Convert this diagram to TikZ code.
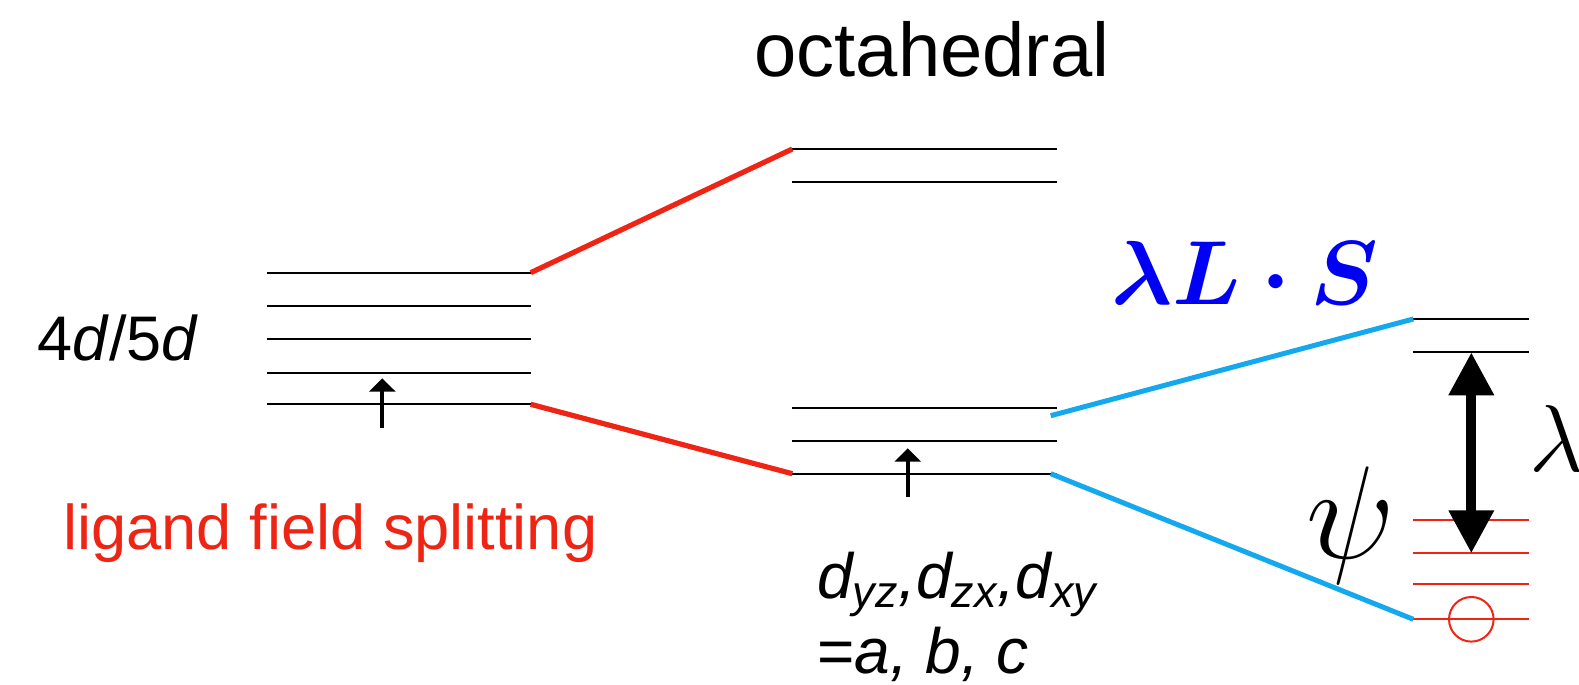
\RequirePackage{fix-cm}
\documentclass[tikz,border=0pt]{standalone}
\usepackage{fontspec}
\setmainfont{Liberation Sans}
\usepackage{bm}
\usetikzlibrary{arrows.meta}
\definecolor{lfred}{HTML}{EE2514}
\definecolor{soblue}{HTML}{14A8EE}
\definecolor{txblue}{HTML}{0000F5}

\begin{document}
\begin{tikzpicture}[x=0.5pt,y=-0.5pt,
  level/.style={black,line width=1.1pt},
  redlevel/.style={lfred,line width=1pt},
  lfline/.style={lfred,line width=2.6pt},
  soline/.style={soblue,line width=2.5pt},
  spin/.style={-{Triangle[length=6.7pt,width=13pt]},line width=2pt},
  gap/.style={{Triangle[length=21.5pt,width=21.5pt]}-{Triangle[length=21.5pt,width=21.5pt]},line width=5pt},
  lbl/.style={inner sep=0pt,anchor=base west}]
  \useasboundingbox (0,0) rectangle (1579,685);

  % Free ion d levels (4d/5d)
  \foreach \y [count=\i] in {272.7,306,339.3,372.7,404.3} {
    \draw[level] (266.7,\y) coordinate (dw\i) -- (530.7,\y) coordinate (de\i);
  }
  \draw[spin] (382.3,428.3) -- (382.3,378.3);

  % Octahedral e_g and t_2g levels
  \foreach \y [count=\i] in {149,182.3} {
    \draw[level] (792.3,\y) coordinate (egw\i) -- (1056.7,\y) coordinate (ege\i);
  }
  \foreach \y [count=\i] in {408.3,441,473.7} {
    \draw[level] (792.3,\y) coordinate (tw\i) -- (1056.7,\y) coordinate (te\i);
  }
  \draw[spin] (907.7,497.3) -- (907.7,448.3);

  % Spin-orbit split levels
  \foreach \y [count=\i] in {319,352.3} {
    \draw[level] (1413.3,\y) coordinate (jw\i) -- coordinate (jm\i) (1529.3,\y) coordinate (je\i);
  }
  \foreach \y [count=\i] in {520,553.3,584,619.3} {
    \draw[redlevel] (1413.3,\y) coordinate (rw\i) -- coordinate (rm\i) (1529.3,\y) coordinate (re\i);
  }
  \node[draw=lfred,line width=1pt,circle,inner sep=0pt,minimum size=22.3pt] (hole) at (rm4) {};
  \draw[gap] (rm2) -- (jm2);

  % Correlation lines
  \draw[lfline] (de1) -- (egw1);
  \draw[lfline] (de5) -- (tw3);
  \draw[soline] ([xshift=-3pt,yshift=-3.7pt]te1) -- (jw1);
  \draw[soline] ([xshift=-3pt]te3) -- (rw4);

  % Labels
  \node[anchor=base,inner sep=0pt,font=\fontsize{38}{40}\selectfont] (octa) at (932,76.7) {octahedral};
  \node[lbl,font=\fontsize{31.5}{34}\selectfont] (shell) at (37.3,360.9) {4\textit{d}/5\textit{d}};
  \node[lbl,lfred,font=\fontsize{31.6}{34}\selectfont] (lfs) at (63,549) {ligand field splitting};
  \node[lbl,font=\fontsize{32}{35}\selectfont\itshape] (orb) at (816.7,598) {d\textsubscript{yz},d\textsubscript{zx},d\textsubscript{xy}};
  \node[lbl,font=\fontsize{32}{35}\selectfont\itshape] (abc) at (816.7,673) {{\upshape=}a, b, c};
  \node[lbl,txblue,font=\fontsize{45.5}{50}\selectfont] (soc) at (1111,304) {$\bm{\lambda L\cdot S}$};
  \node[inner sep=0pt,font=\fontsize{66}{72}\selectfont] (psi) at (1351,525) {$\psi$};
  \node[lbl,font=\fontsize{47.5}{50}\selectfont] (lam) at (1529,471.7) {$\lambda$};
\end{tikzpicture}
\end{document}
